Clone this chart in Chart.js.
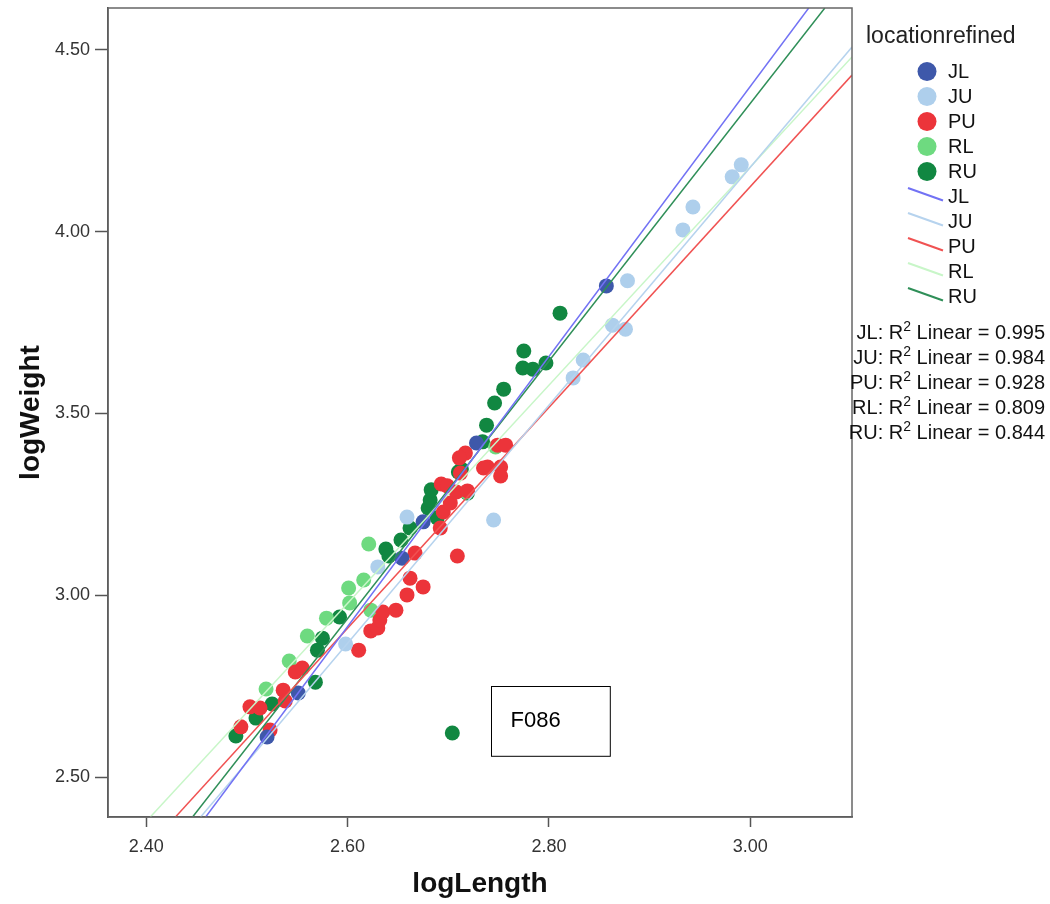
<!DOCTYPE html>
<html>
<head>
<meta charset="utf-8">
<script src="https://cdn.jsdelivr.net/npm/chart.js@4.4.0/dist/chart.umd.min.js"></script>
<style>
  html, body { margin: 0; padding: 0; background: #fff; }
  #wrap { width: 1050px; height: 904px; }
</style>
</head>
<body>
<div id="wrap"><canvas id="chart" width="1050" height="904"></canvas></div>
<script>
const groups = ['JL', 'JU', 'PU', 'RL', 'RU'];
const rSquared = ['0.995', '0.984', '0.928', '0.809', '0.844'];

const xTicks = [2.40, 2.60, 2.80, 3.00];
const yTicks = [2.50, 3.00, 3.50, 4.00, 4.50];

// logLength / logWeight, one pair of arrays per location
const jlLength = [2.857, 2.728, 2.675, 2.654, 2.551, 2.520];
const jlWeight = [3.851, 3.419, 3.202, 3.102, 2.731, 2.610];

const juLength = [2.991, 2.982, 2.943, 2.933, 2.878, 2.863, 2.876, 2.834, 2.824, 2.745, 2.659, 2.630, 2.598];
const juWeight = [4.184, 4.151, 4.068, 4.005, 3.865, 3.743, 3.732, 3.647, 3.598, 3.207, 3.215, 3.078, 2.866];

const puLength = [2.494, 2.503, 2.513, 2.523, 2.536, 2.538, 2.548, 2.555,
                  2.611, 2.623, 2.630, 2.632, 2.635, 2.648, 2.659, 2.662, 2.675, 2.667,
                  2.692, 2.695, 2.702, 2.708, 2.693, 2.699, 2.719, 2.709, 2.712, 2.717,
                  2.711, 2.739, 2.752, 2.752, 2.749, 2.757, 2.735];
const puWeight = [2.638, 2.693, 2.690, 2.629, 2.739, 2.709, 2.789, 2.800,
                  2.849, 2.902, 2.910, 2.932, 2.954, 2.959, 3.001, 3.047, 3.023, 3.116,
                  3.185, 3.229, 3.254, 3.284, 3.306, 3.301, 3.287, 3.108, 3.336, 3.391,
                  3.378, 3.353, 3.353, 3.328, 3.413, 3.413, 3.350];

const rlLength = [2.519, 2.542, 2.560, 2.579, 2.602, 2.601, 2.616, 2.621, 2.623, 2.718, 2.747];
const rlWeight = [2.742, 2.819, 2.888, 2.937, 2.979, 3.020, 3.042, 3.141, 2.959, 3.284, 3.408];

const ruLength = [2.489, 2.509, 2.525, 2.568, 2.570, 2.575, 2.592, 2.638, 2.641, 2.653,
                  2.662, 2.680, 2.682, 2.683, 2.689, 2.710, 2.713, 2.719, 2.734, 2.738,
                  2.746, 2.755, 2.775, 2.774, 2.784, 2.797, 2.811, 2.704];
const ruWeight = [2.613, 2.662, 2.701, 2.761, 2.849, 2.882, 2.940, 3.127, 3.108, 3.152,
                  3.185, 3.240, 3.262, 3.290, 3.213, 3.339, 3.347, 3.281, 3.422, 3.468,
                  3.529, 3.567, 3.672, 3.625, 3.622, 3.639, 3.776, 2.621];

// fit lines, read where they leave the plot
const jlFitX = [2.459, 3.058], jlFitY = [2.390, 4.6155];
const juFitX = [2.454, 3.101], juFitY = [2.390, 4.508];
const puFitX = [2.429, 3.101], puFitY = [2.390, 4.431];
const rlFitX = [2.404, 3.101], rlFitY = [2.390, 4.481];
const ruFitX = [2.446, 3.074], ruFitY = [2.390, 4.6155];

const pointColors = ['#3E58AA', '#AECFEC', '#EC343A', '#6EDA80', '#118741'];
const lineColors = ['#7272F4', '#B6D3EE', '#F05252', '#C8F6C8', '#2F8F58'];

const lengths = [jlLength, juLength, puLength, rlLength, ruLength];
const weights = [jlWeight, juWeight, puWeight, rlWeight, ruWeight];
const fitX = [jlFitX, juFitX, puFitX, rlFitX, ruFitX];
const fitY = [jlFitY, juFitY, puFitY, rlFitY, ruFitY];

const pairs = (xs, ys) => xs.map((x, i) => ({x: x, y: ys[i]}));

var datasets = [];
groups.forEach(function (g, k) {
    datasets.push({
        type: 'scatter',
        label: g,
        data: pairs(lengths[k], weights[k]),
        backgroundColor: pointColors[k],
        borderWidth: 0,
        pointRadius: 7.5,
        order: 1
    });
});
groups.forEach(function (g, k) {
    datasets.push({
        type: 'line',
        label: g + ' fit',
        data: pairs(fitX[k], fitY[k]),
        borderColor: lineColors[k],
        borderWidth: 1.5,
        pointRadius: 0,
        fill: false,
        order: 0
    });
});

const FONT = '"Liberation Sans", Arial, sans-serif';

// frame, note box and the right-hand legend
const extras = {
    id: 'extras',
    afterDatasetsDraw(chart) {
        const c = chart.ctx, a = chart.chartArea;
        const xs = chart.scales.x, ys = chart.scales.y;
        c.save();
        c.strokeStyle = '#666';
        c.lineWidth = 1.5;
        c.strokeRect(a.left, a.top, a.right - a.left, a.bottom - a.top);

        // F086 note
        const bx0 = xs.getPixelForValue(2.742), bx1 = xs.getPixelForValue(2.860);
        const by0 = ys.getPixelForValue(2.750), by1 = ys.getPixelForValue(2.558);
        c.fillStyle = '#fff';
        c.fillRect(bx0, by0, bx1 - bx0, by1 - by0);
        c.strokeStyle = '#000';
        c.lineWidth = 1;
        c.strokeRect(Math.round(bx0) + 0.5, Math.round(by0) + 0.5, bx1 - bx0, by1 - by0);
        c.fillStyle = '#000';
        c.font = '22px ' + FONT;
        c.textBaseline = 'middle';
        c.fillText('F086', bx0 + 20, (by0 + by1) / 2);
        c.restore();
    },
    afterDraw(chart) {
        const c = chart.ctx;
        c.save();
        c.fillStyle = '#222';
        c.font = '23px ' + FONT;
        c.textBaseline = 'alphabetic';
        c.fillText('locationrefined', 866, 43);

        c.font = '20px ' + FONT;
        c.textBaseline = 'middle';
        groups.forEach(function (g, k) {
            const y = 72 + 25 * k;
            c.beginPath();
            c.arc(927, y - 0.5, 9.5, 0, Math.PI * 2);
            c.fillStyle = pointColors[k];
            c.fill();
            c.fillStyle = '#111';
            c.fillText(g, 948, y);
        });
        groups.forEach(function (g, k) {
            const y = 197 + 25 * k;
            c.beginPath();
            c.moveTo(908, y - 9);
            c.lineTo(943, y + 3.5);
            c.strokeStyle = lineColors[k];
            c.lineWidth = 2;
            c.stroke();
            c.fillStyle = '#111';
            c.fillText(g, 948, y);
        });

        // R squared lines, right aligned
        groups.forEach(function (g, k) {
            const y = 339 + 24.9 * k;
            const a = g + ': R', b = '2', d = ' Linear = ' + rSquared[k];
            c.font = '20px ' + FONT;
            const wa = c.measureText(a).width, wd = c.measureText(d).width;
            c.font = '14px ' + FONT;
            const wb = c.measureText(b).width;
            let x = 1045 - (wa + wb + wd);
            c.fillStyle = '#111';
            c.textBaseline = 'alphabetic';
            c.font = '20px ' + FONT;
            c.fillText(a, x, y);
            c.font = '14px ' + FONT;
            c.fillText(b, x + wa, y - 8);
            c.font = '20px ' + FONT;
            c.fillText(d, x + wa + wb, y);
        });
        c.restore();
    }
};

const config = {
    data: { datasets: datasets },
    options: {
        responsive: false,
        animation: false,
        events: [],
        layout: { padding: { top: 8, right: 198, left: 0, bottom: 0 } },
        plugins: { legend: { display: false }, tooltip: { enabled: false } },
        scales: {
            x: {
                type: 'linear',
                min: 2.362,
                max: 3.101,
                afterFit: function (s) { s.height = 87; s.paddingLeft = 0; s.paddingRight = 0; },
                afterBuildTicks: function (s) { s.ticks = xTicks.map(v => ({value: v})); },
                grid: { drawOnChartArea: false, drawTicks: true, tickLength: 10, tickColor: '#555', tickWidth: 1.5 },
                border: { color: '#444', width: 1.5 },
                ticks: {
                    padding: 9,
                    color: '#333',
                    font: { family: FONT, size: 18 },
                    callback: v => v.toFixed(2)
                },
                title: {
                    display: true,
                    text: 'logLength',
                    color: '#111',
                    font: { family: FONT, size: 28, weight: 'bold' },
                    padding: { top: 0, bottom: 3 }
                }
            },
            y: {
                type: 'linear',
                min: 2.390,
                max: 4.6155,
                afterFit: function (s) { s.width = 108; s.paddingTop = 0; s.paddingBottom = 0; },
                afterBuildTicks: function (s) { s.ticks = yTicks.map(v => ({value: v})); },
                grid: { drawOnChartArea: false, drawTicks: true, tickLength: 13, tickColor: '#555', tickWidth: 1.5 },
                border: { color: '#444', width: 1.5 },
                ticks: {
                    padding: 5,
                    color: '#333',
                    font: { family: FONT, size: 18 },
                    callback: v => v.toFixed(2)
                },
                title: {
                    display: true,
                    text: 'logWeight',
                    color: '#111',
                    font: { family: FONT, size: 28, weight: 'bold' },
                    padding: { top: 14, bottom: 0 }
                }
            }
        }
    },
    plugins: [extras]
};

var ctx = document.getElementById('chart').getContext('2d');
var chart = new Chart(ctx, config);
</script>
</body>
</html>
